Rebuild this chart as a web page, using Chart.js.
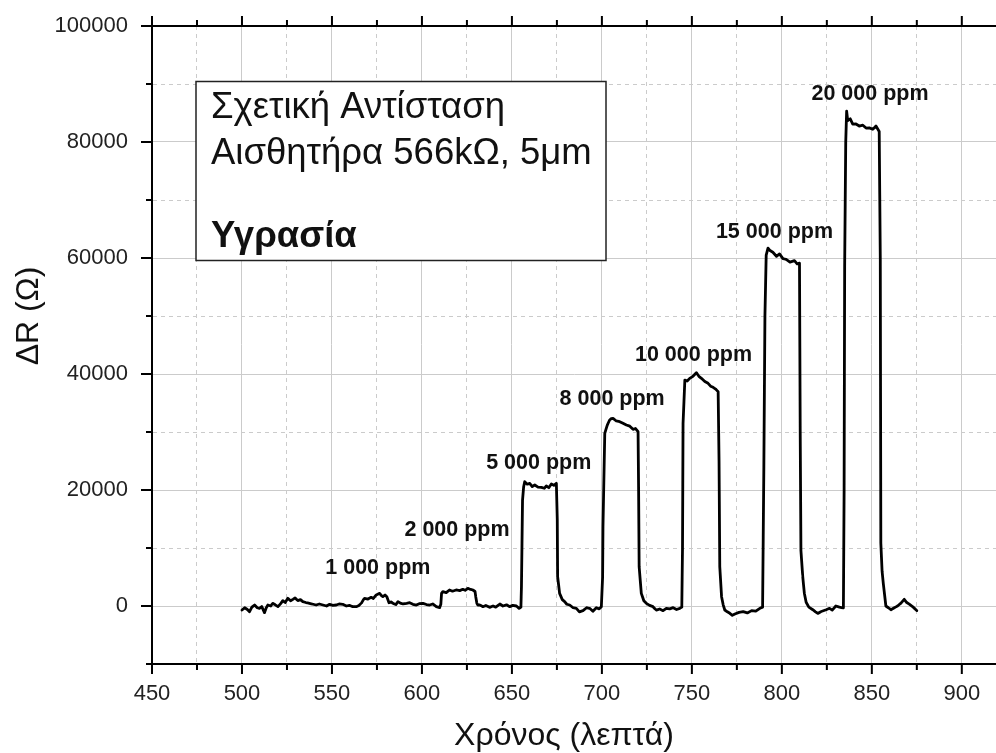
<!DOCTYPE html>
<html>
<head>
<meta charset="utf-8">
<script src="https://cdn.jsdelivr.net/npm/chart.js@4.4.1/dist/chart.umd.min.js"></script>
<style>
  html, body { margin: 0; padding: 0; background: #fff; }
  #wrap { width: 996px; height: 753px; }
</style>
</head>
<body>
<div id="wrap"><canvas id="chart" width="996" height="753"></canvas></div>
<script>
// time in minutes
const timeMin = [
  500.0, 501.5, 503.0, 504.2, 505.5, 507.0, 508.5, 509.7, 511.0, 512.5,
  513.5, 514.4, 516.0, 517.0, 518.5, 520.0, 521.5, 522.7, 524.0, 525.5,
  527.0, 528.3, 529.5, 531.0, 532.5, 533.8, 535.5, 537.5, 539.5, 541.2,
  543.0, 545.0, 547.0, 548.7, 550.5, 552.4, 554.0, 556.0, 558.0, 559.7,
  561.5, 563.5, 565.0, 566.3, 567.5, 568.1, 570.0, 571.8, 573.0, 574.6,
  576.5, 577.5, 578.3, 579.5, 580.5, 581.7, 583.0, 583.9, 585.5, 586.7,
  588.0, 589.5, 591.5, 593.2, 595.0, 596.9, 598.5, 600.6, 602.5, 604.3,
  606.0, 608.0, 609.8, 610.5, 610.9, 611.6, 613.5, 615.3, 617.0, 619.0,
  621.0, 622.7, 624.0, 625.5, 627.0, 628.3, 629.5, 629.9, 630.5, 631.0,
  632.1, 633.9, 635.5, 637.6, 639.5, 641.0, 643.3, 645.0, 647.0, 648.8,
  650.5, 652.5, 654.0, 655.0, 655.3, 655.9, 656.5, 657.1, 658.5, 659.9,
  661.3, 662.7, 664.5, 666.4, 668.0, 669.1, 670.5, 671.9, 673.3, 674.7,
  675.2, 675.4, 676.5, 678.0, 679.3, 680.5, 682.1, 684.0, 685.8, 687.5,
  689.5, 691.5, 693.2, 695.0, 696.9, 698.5, 699.7, 700.4, 700.6, 701.6,
  703.0, 704.3, 705.2, 706.2, 708.0, 709.9, 711.7, 713.6, 715.5, 717.3,
  718.7, 720.1, 720.4, 720.7, 721.9, 723.3, 724.7, 726.5, 728.4, 730.2,
  732.1, 734.0, 735.8, 737.7, 739.6, 741.5, 743.3, 744.4, 744.8, 745.1,
  746.1, 747.4, 748.8, 750.6, 752.5, 753.9, 755.3, 757.2, 759.0, 760.4,
  761.8, 763.2, 764.6, 765.1, 765.5, 766.5, 767.4, 768.3, 769.7, 771.1,
  772.5, 773.9, 776.2, 778.5, 780.8, 783.2, 785.5, 787.8, 789.3, 790.0,
  790.6, 791.3, 792.3, 793.2, 795.0, 797.0, 798.7, 800.6, 802.4, 804.5,
  807.0, 808.5, 809.8, 810.2, 810.6, 811.6, 812.5, 813.5, 815.0, 817.2,
  818.7, 820.0, 822.3, 824.6, 826.5, 828.0, 830.0, 832.0, 834.2, 834.6,
  834.9, 835.5, 836.0, 836.6, 838.0, 839.4, 841.2, 843.0, 845.0, 846.8,
  848.6, 850.5, 852.3, 854.1, 854.7, 855.0, 855.7, 856.4, 857.8, 859.2,
  860.6, 862.5, 864.3, 866.2, 868.0, 869.4, 870.8, 872.6, 874.5, 875.0
];

// ΔR in ohms
const deltaR = [
  -700, -300, -600, -980, -200, 170, -300, -400, -100, -1150,
  -300, 170, 0, 460, 200, -115, 400, 920, 600, 1320,
  900, 1150, 1400, 920, 1100, 750, 600, 460, 300, 170,
  350, 170, 0, 290, 100, 170, 350, 290, 0, 110,
  -100, -115, 100, 460, 1100, 1320, 1200, 1500, 1300, 1900,
  2180, 1800, 1610, 1900, 1610, 570, 700, 460, 250, 750,
  500, 350, 450, 570, 300, 170, 400, 460, 250, 170,
  350, -115, -290, 300, 2180, 2470, 2300, 2760, 2550, 2760,
  2650, 2880, 2700, 3050, 2850, 2760, 2500, 1610, 500, 170,
  170, -115, 100, -230, 0, -200, 345, 0, 200, -115,
  100, 0, -400, -200, 3330, 18270, 20500, 21440, 21000, 21150,
  20600, 20860, 20500, 20460, 20300, 20690, 20400, 21030, 20800, 21150,
  15000, 5060, 2180, 1100, 750, 300, 170, -300, -400, -1000,
  -800, -300, -400, -900, -290, -500, -115, 5000, 13680, 29770,
  31200, 32070, 32300, 32350, 31900, 31780, 31500, 31200, 31000, 30460,
  30600, 30060, 20000, 6780, 2180, 900, 460, 100, -115, -700,
  -520, -800, -400, -500, -290, -600, -400, -200, 10000, 31490,
  38960, 38800, 39250, 39600, 40230, 39600, 39250, 38700, 38390, 37900,
  37700, 37400, 36950, 25000, 6780, 1610, 200, -690, -1000, -1260,
  -1600, -1380, -1100, -980, -1200, -800, -900, -400, -200, 24020,
  50000, 60500, 61700, 61340, 61000, 60300, 60700, 59900, 59750, 59300,
  59560, 59000, 59100, 30000, 9580, 5100, 2200, 640, -200, -640,
  -1000, -1280, -900, -640, -400, -700, 0, -200, -320, 20000,
  58470, 80000, 85300, 83700, 84000, 83070, 83100, 82750, 82900, 82400,
  82430, 82200, 82750, 81800, 60000, 10860, 6000, 3830, 0, -300,
  -640, -300, 0, 500, 1150, 600, 320, -100, -640, -800
];

// concentration labels and where they sit (data units)
const stepLabels = ['1 000 ppm', '2 000 ppm', '5 000 ppm', '8 000 ppm', '10 000 ppm', '15 000 ppm', '20 000 ppm'];
const stepLabelX = [575.5, 619.5, 664.9, 705.7, 750.9, 795.9, 849.0];
const stepLabelY = [6620, 13020, 24650, 35630, 43270, 64550, 88180];

const boxLines = ['Σχετική Αντίσταση', 'Αισθητήρα 566kΩ, 5μm'];
const boxBold = 'Υγρασία';
const xTitle = 'Χρόνος (λεπτά)';
const yTitle = 'ΔR (Ω)';

const FONT = "Arial, 'Liberation Sans', sans-serif";
const points = timeMin.map((t, i) => ({ x: t, y: deltaR[i] }));

const gridColor = '#cbcbcb';

const decorations = {
  id: 'decorations',
  afterDatasetsDraw(chart) {
    const { ctx, scales: { x, y } } = chart;
    ctx.save();
    // text box
    ctx.fillStyle = '#fff';
    ctx.fillRect(196, 81.5, 410, 179);
    ctx.strokeStyle = '#222';
    ctx.lineWidth = 1.5;
    ctx.strokeRect(196, 81.5, 410, 179);
    ctx.fillStyle = '#111';
    ctx.textAlign = 'left';
    ctx.textBaseline = 'alphabetic';
    ctx.font = '36.5px ' + FONT;
    ctx.fillText(boxLines[0], 211, 118);
    ctx.fillText(boxLines[1], 211, 164);
    ctx.font = 'bold 36.5px ' + FONT;
    ctx.fillText(boxBold, 211, 247);

    // ppm labels
    ctx.font = 'bold 21.5px ' + FONT;
    ctx.textAlign = 'center';
    ctx.textBaseline = 'middle';
    stepLabels.forEach((s, i) => {
      ctx.fillText(s, x.getPixelForValue(stepLabelX[i]), y.getPixelForValue(stepLabelY[i]));
    });
    ctx.restore();
  },
  afterDraw(chart) {
    const { ctx, chartArea: a, scales: { x, y } } = chart;
    ctx.save();
    ctx.strokeStyle = '#000';
    ctx.lineWidth = 2;
    ctx.beginPath();
    ctx.moveTo(a.left - 1, a.top);
    ctx.lineTo(a.right, a.top);
    ctx.stroke();
    x.ticks.forEach(t => {
      const px = x.getPixelForValue(t.value);
      const len = t.value % 50 === 0 ? 10 : 6;
      ctx.beginPath();
      ctx.moveTo(px, a.bottom);
      ctx.lineTo(px, a.bottom + len);
      ctx.moveTo(px, a.top);
      ctx.lineTo(px, a.top - len);
      ctx.stroke();
    });
    y.ticks.forEach(t => {
      const py = y.getPixelForValue(t.value);
      const len = t.value % 20000 === 0 ? 11 : 6;
      ctx.beginPath();
      ctx.moveTo(a.left, py);
      ctx.lineTo(a.left - len, py);
      ctx.stroke();
    });

    // axis titles
    ctx.fillStyle = '#111';
    ctx.font = '32px ' + FONT;
    ctx.textAlign = 'center';
    ctx.textBaseline = 'alphabetic';
    ctx.fillText(xTitle, 564, 745);
    ctx.translate(38, 316);
    ctx.rotate(-Math.PI / 2);
    ctx.fillText(yTitle, 0, 0);
    ctx.restore();
  }
};

new Chart(document.getElementById('chart'), {
  type: 'line',
  data: {
    datasets: [{
      data: points,
      borderColor: '#000',
      borderWidth: 2.8,
      borderJoinStyle: 'round',
      borderCapStyle: 'round',
      pointRadius: 0,
      tension: 0.000001,
      fill: false
    }]
  },
  options: {
    responsive: false,
    animation: false,
    events: [],
    layout: { padding: { top: 26, left: 0, right: 0, bottom: 0 } },
    plugins: {
      legend: { display: false },
      tooltip: { enabled: false }
    },
    scales: {
      x: {
        type: 'linear',
        min: 450,
        max: 919,
        ticks: {
          stepSize: 25,
          includeBounds: false,
          autoSkip: false,
          maxRotation: 0,
          padding: 17,
          color: '#222',
          font: { size: 22, family: FONT },
          callback: v => (v % 50 === 0 ? String(v) : '')
        },
        grid: { drawTicks: false, color: gridColor, lineWidth: 1 },
        border: {
          color: '#000',
          width: 2,
          dash: c => (c.tick && c.tick.value % 50 !== 0 ? [4, 4] : [])
        },
        afterFit: s => { s.height = 89; s.paddingLeft = 0; s.paddingRight = 0; }
      },
      y: {
        min: -10000,
        max: 100000,
        ticks: {
          stepSize: 10000,
          autoSkip: false,
          padding: 24,
          color: '#222',
          font: { size: 22, family: FONT },
          callback: v => (v % 20000 === 0 ? String(v) : '')
        },
        grid: { drawTicks: false, color: gridColor, lineWidth: 1 },
        border: {
          color: '#000',
          width: 2,
          dash: c => (c.tick && c.tick.value % 20000 !== 0 ? [4, 4] : [])
        },
        afterFit: s => { s.width = 152; s.paddingTop = 0; s.paddingBottom = 0; }
      }
    }
  },
  plugins: [decorations]
});
</script>
</body>
</html>
